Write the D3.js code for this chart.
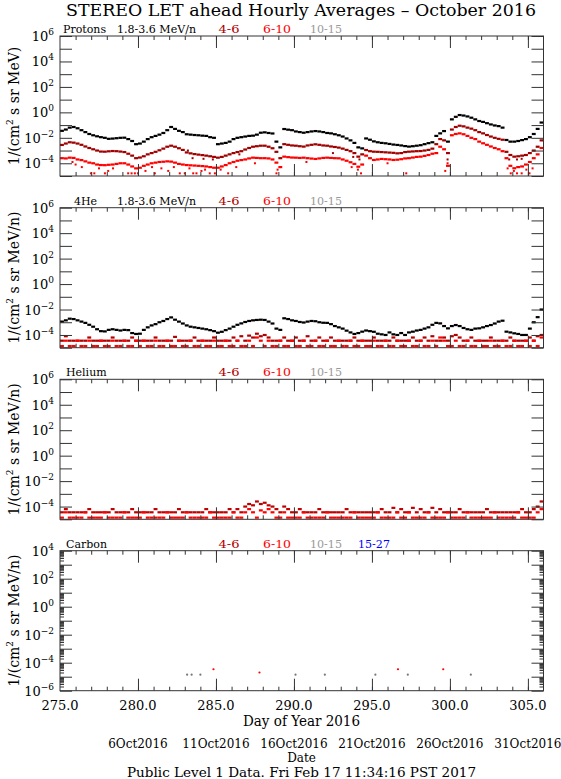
<!DOCTYPE html>
<html>
<head>
<meta charset="utf-8">
<script src="https://cdn.jsdelivr.net/npm/d3@7"></script>
<style>
  body { margin: 0; background: #fff; }
  svg { display: block; }
  text { font-family: "DejaVu Serif", serif; fill: #000; }
</style>
</head>
<body>
<svg width="561" height="779"></svg>
<script>
var dayStart = 275, dayStep = 0.25, dayEnd = 306;

var xMajorTicks = [280, 285, 290, 295, 300, 305];
var xLabelDays = [275, 280, 285, 290, 295, 300, 305];
var dateLabels = ["6Oct2016", "11Oct2016", "16Oct2016", "21Oct2016", "26Oct2016", "31Oct2016"];

var chanNames = ["4-6", "6-10", "10-15", "15-27"];
var chanColors = ["#b00000", "#ff0000", "#999999", "#0000ff"];

// Protons 1.8-3.6 MeV
var protons18 = [
 -1.45,-1.35,-1.2,-1.15,  -1.25,-1.4,-1.55,-1.7,  -1.8,-1.88,-1.95,-2.0,  -2.08,-2.06,-2.03,-2.0,
 -1.99,-2.1,-2.25,-2.5,  -2.45,-2.3,-2.1,-1.95,  -1.85,-1.75,-1.62,-1.4,  -1.15,-1.3,-1.45,-1.55,
 -1.72,-1.75,-1.78,-1.8,  -1.83,-1.85,-1.95,-2.0,  -2.5,-2.45,-2.4,-2.3,  -2.1,-2.0,-1.95,-1.9,
 -1.85,-1.83,-1.75,-1.6,  -1.57,-1.62,-1.66,-2.3,  -2.75,-1.31,-1.36,-1.4,  -1.5,-1.55,-1.6,-1.55,
 -1.5,-1.47,-1.5,-1.55,  -1.62,-1.65,-1.72,-1.8,  -1.9,-2.05,-2.2,-2.4,  -2.75,-2.83,-2.05,-2.15,
 -2.28,-2.35,-2.4,-2.43,  -2.48,-2.53,-2.56,-2.6,  -2.65,-2.69,-2.66,-2.62,  -2.58,-2.5,-2.42,-2.35,
 -1.85,-1.65,-1.47,-2.3,  -0.55,-0.35,-0.21,-0.25,  -0.32,-0.42,-0.55,-0.68,  -0.75,-0.85,-0.95,-1.03,
 -1.08,-1.2,-2.17,-2.3,  -2.3,-2.25,-2.18,-2.1,  -1.95,-1.7,-1.3,-0.8
];
// Protons 4-6 MeV
var protons46 = [
 -2.56,-2.45,-2.35,-2.38,  -2.45,-2.55,-2.68,-2.8,  -2.9,-3.0,-3.08,-3.09,  -3.06,-3.04,-3.05,-3.08,
 -3.12,-3.25,-3.4,-3.6,  -3.55,-3.45,-3.3,-3.2,  -3.1,-2.98,-2.85,-2.7,  -2.62,-2.7,-2.82,-2.95,
 -3.15,-3.22,-3.28,-3.32,  -3.36,-3.4,-3.45,-3.5,  -3.56,-3.5,-3.4,-3.3,  -3.2,-3.12,-3.05,-2.92,
 -2.8,-2.7,-2.66,-2.62,  -2.62,-2.7,-2.82,-3.1,  -3.6,-2.5,-2.55,-2.6,  -2.62,-2.66,-2.69,-2.6,
 -2.55,-2.51,-2.55,-2.6,  -2.62,-2.68,-2.72,-2.77,  -2.85,-2.95,-3.05,-3.2,  -3.48,-3.3,-2.96,-3.05,
 -3.09,-3.1,-3.12,-3.14,  -3.16,-3.18,-3.22,-3.2,  -3.12,-3.09,-3.07,-3.05,  -3.04,-3.0,-2.95,-2.85,
 -2.5,-2.1,-2.2,-3.2,  -1.35,-1.15,-1.05,-1.1,  -1.2,-1.28,-1.4,-1.55,  -1.65,-1.78,-1.9,-2.0,
 -2.08,-2.15,-3.1,-3.35,  -3.48,-3.45,-3.4,-3.35,  -3.2,-3.0,-2.7,-2.2
];
// Protons 6-10 MeV
var protons610 = [
 -3.6,-3.62,-3.56,-3.58,  -3.7,-3.75,-3.85,-3.95,  -4.0,-4.1,-4.14,-4.15,  -4.12,-4.1,-4.05,-4.0,
 -4.0,-4.1,-4.25,-4.4,  -4.35,-4.2,-4.1,-4.0,  -3.95,-3.9,-3.88,-3.85,  -3.87,-3.95,-4.05,-4.1,
 -4.14,-4.16,-4.18,-4.2,  -4.22,-4.25,-4.3,-4.35,  -4.35,-4.25,-4.14,-4.0,  -3.9,-3.8,-3.75,-3.7,
 -3.62,-3.56,-3.58,-3.6,  -3.6,-3.62,-3.7,-3.95,  -4.3,-3.48,-3.52,-3.55,  -3.56,-3.58,-3.56,-3.6,
 -3.63,-3.66,-3.62,-3.58,  -3.56,-3.58,-3.6,-3.61,  -3.7,-3.8,-3.92,-4.05,  -4.27,-4.1,-3.4,-3.6,
 -3.74,-3.7,-3.66,-3.68,  -3.7,-3.74,-3.72,-3.68,  -3.62,-3.6,-3.55,-3.5,  -3.48,-3.42,-3.35,-3.25,
 -3.2,-2.7,-2.9,-4.2,  -1.8,-1.7,-1.65,-1.72,  -1.85,-2.0,-2.1,-2.3,  -2.43,-2.55,-2.68,-2.8,
 -2.9,-3.05,-3.6,-4.2,  -4.39,-4.3,-4.25,-4.1,  -3.9,-3.6,-3.3,-2.8
];
// scattered low-count hours: [day, log10 flux]
var protons610Scatter = [
 [275.8,-3.9],[276.0,-4.1],[276.4,-4.3],[276.98,-4.79],[277.2,-4.79],[277.5,-4.4],[277.88,-4.79],
 [278.09,-4.6],[278.4,-4.4],[279.37,-4.79],[279.59,-4.79],[279.8,-4.79],[280.0,-4.79],[280.48,-4.6],
 [280.9,-4.3],[281.08,-4.79],[281.5,-4.4],[281.94,-4.6],[282.3,-4.3],[282.68,-4.79],[283.0,-4.79],
 [283.3,-4.4],[283.54,-4.79],[283.75,-4.79],[284.07,-4.6],[284.3,-4.5],[284.6,-4.79],[284.93,-4.79],
 [285.3,-4.5],[285.78,-4.79],[286.3,-4.3],[287.5,-4.0],[288.88,-4.79],[288.95,-4.5],[290.8,-3.9],
 [293.7,-4.3],[294.1,-4.5],[294.3,-4.79],[296.0,-4.0],[297.2,-4.79],[299.7,-4.6],[299.85,-4.0],
 [303.7,-4.4],[303.9,-4.79],[304.1,-4.6],[304.3,-4.79],[304.6,-4.79],[304.9,-4.5],[305.1,-4.79],[305.3,-4.4]
];
var protons46Scatter = [
 [283.2,-3.0],[283.5,-3.6],[284.2,-3.65],[284.8,-3.7],[286.5,-3.3],[292.5,-3.2],[293.8,-3.5],
 [294.2,-3.7],[299.85,-3.7],[303.8,-3.7],[304.3,-3.7],[304.6,-3.65]
];

// 4He 1.8-3.6 MeV/n
var he4_18 = [
 -2.95,-2.85,-2.72,-2.75,  -2.85,-2.95,-3.05,-3.2,  -3.35,-3.55,-3.7,-3.72,  -3.6,-3.55,-3.6,-3.65,
 -3.6,-3.62,-3.85,-3.92,  -3.9,-3.6,-3.4,-3.25,  -3.15,-3.0,-2.9,-2.75,  -2.62,-2.8,-2.95,-3.1,
 -3.25,-3.35,-3.4,-3.45,  -3.5,-3.55,-3.62,-3.7,  -3.82,-3.75,-3.62,-3.5,  -3.35,-3.2,-3.09,-2.98,
 -2.9,-2.85,-2.82,-2.8,  -2.82,-2.95,-3.1,-3.5,  -3.6,-2.69,-2.75,-2.85,  -2.9,-2.98,-3.02,-2.95,
 -2.9,-2.92,-3.0,-3.04,  -3.05,-3.15,-3.3,-3.4,  -3.5,-3.66,-3.8,-3.92,  -3.85,-3.74,-3.65,-3.7,
 -3.75,-3.9,-3.95,-4.0,  -3.8,-3.95,-4.0,-3.85,  -4.0,-3.8,-3.74,-3.65,  -3.6,-3.5,-3.4,-3.2,
 -3.05,-3.09,-3.3,-3.48,  -3.3,-3.22,-3.3,-3.45,  -3.55,-3.6,-3.5,-3.48,  -3.4,-3.3,-3.22,-3.1,
 -2.95,-2.88,-3.74,-3.8,  -3.87,-3.92,-4.0,-4.0,  -3.5,-3.0,-2.6,-2.0
];
// 4He 4-6 MeV/n
var he4_46 = [
 -4.45,-4.1,-4.45,-4.45,  -4.45,-4.45,-4.45,-4.2,  -4.45,-4.45,-4.45,-4.45,  -4.45,-4.2,-4.45,-4.45,
 -4.45,-4.45,-4.2,-4.45,  -4.45,-4.45,-4.45,-4.45,  -4.2,-4.45,-4.45,-4.45,  -4.45,-4.15,-4.45,-4.45,
 -4.45,-4.45,-4.2,-4.45,  -4.45,-4.45,-4.45,-4.2,  -4.45,-4.45,-4.45,-4.45,  -4.2,-4.45,-4.1,-4.45,
 -4.05,-4.2,-3.9,-4.1,  -4.0,-4.2,-4.45,-4.45,  -4.45,-4.2,-4.45,-4.45,  -4.2,-4.45,-4.45,-4.1,
 -4.45,-4.45,-4.2,-4.45,  -4.45,-4.2,-4.45,-4.45,  -4.45,-4.45,-4.45,-4.2,  -4.45,-4.45,-4.45,-4.45,
 -4.2,-4.45,-4.45,-4.45,  -4.45,-4.2,-4.45,-4.45,  -4.45,-4.45,-4.2,-4.45,  -4.45,-4.2,-4.45,-4.1,
 -4.45,-4.45,-4.2,-4.45,  -4.1,-4.0,-4.2,-4.45,  -4.45,-4.2,-4.45,-4.45,  -4.45,-4.45,-4.2,-4.45,
 -4.45,-4.45,-4.45,-4.2,  -4.45,-4.45,-4.45,-4.45,  -4.2,-4.45,-4.1,-4.0
];
// 4He 6-10 MeV/n
var he4_610 = [
 -4.87,-4.45,-4.87,-4.87,  -4.45,-4.87,-4.87,-4.45,  -4.87,-4.87,-4.45,-4.87,  -4.87,-4.45,-4.87,-4.87,
 -4.45,-4.87,-4.87,-4.45,  -4.87,-4.45,-4.87,-4.87,  -4.45,-4.87,-4.87,-4.45,  -4.87,-4.87,-4.45,-4.87,
 -4.87,-4.45,-4.87,-4.87,  -4.45,-4.87,-4.87,-4.45,  -4.87,-4.87,-4.45,-4.87,  -4.87,-4.45,-4.87,-4.87,
 -4.45,-4.87,-4.2,-4.45,  -4.87,-4.45,-4.87,-4.87,  -4.45,-4.87,-4.87,-4.45,  -4.87,-4.87,-4.45,-4.87,
 -4.87,-4.45,-4.87,-4.87,  -4.45,-4.87,-4.87,-4.45,  -4.87,-4.87,-4.45,-4.87,  -4.87,-4.45,-4.87,-4.87,
 -4.45,-4.87,-4.87,-4.45,  -4.87,-4.87,-4.45,-4.87,  -4.87,-4.45,-4.87,-4.87,  -4.45,-4.87,-4.87,-4.45,
 -4.87,-4.2,-4.45,-4.87,  -4.87,-4.45,-4.87,-4.87,  -4.45,-4.87,-4.87,-4.45,  -4.87,-4.87,-4.45,-4.87,
 -4.87,-4.45,-4.87,-4.87,  -4.45,-4.87,-4.87,-4.45,  -4.87,-4.45,-4.87,-4.2
];

// Helium 4-6 MeV/n
var heliumDark = [
 -4.45,-4.2,-4.45,-4.45,  -4.45,-4.45,-4.45,-4.2,  -4.45,-4.45,-4.45,-4.45,  -4.45,-4.2,-4.45,-4.45,
 -4.45,-4.45,-4.2,-4.45,  -4.45,-4.45,-4.45,-4.45,  -4.2,-4.45,-4.45,-4.45,  -4.45,-4.45,-4.2,-4.45,
 -4.45,-4.45,-4.45,-4.45,  -4.45,-4.2,-4.45,-4.45,  -4.45,-4.45,-4.45,-4.2,  -4.45,-4.2,-4.45,-4.0,
 -3.8,-3.9,-3.6,-3.8,  -3.7,-3.9,-4.0,-4.2,  -4.45,-4.0,-4.2,-4.45,  -4.45,-4.2,-4.45,-4.45,
 -4.45,-4.45,-4.2,-4.45,  -4.45,-4.45,-4.45,-4.45,  -4.45,-4.2,-4.45,-4.45,  -4.45,-4.45,-4.45,-4.45,
 -4.45,-4.45,-4.2,-4.45,  -4.45,-4.1,-4.45,-4.2,  -4.45,-4.45,-4.1,-4.45,  -4.2,-4.45,-4.45,-4.1,
 -4.45,-4.2,-4.45,-4.45,  -4.45,-4.45,-4.2,-4.45,  -4.45,-4.45,-4.45,-4.45,  -4.45,-4.2,-4.45,-4.45,
 -4.45,-4.45,-4.45,-4.45,  -4.45,-4.45,-4.2,-4.45,  -4.45,-4.2,-4.0,-3.6
];
// Helium 6-10 MeV/n
var heliumRed = [
 -4.87,-4.45,-4.87,-4.87,  -4.87,-4.87,-4.45,-4.87,  -4.87,-4.87,-4.87,-4.45,  -4.87,-4.87,-4.87,-4.87,
 -4.45,-4.87,-4.87,-4.87,  -4.87,-4.45,-4.87,-4.87,  -4.87,-4.87,-4.87,-4.45,  -4.87,-4.87,-4.87,-4.87,
 -4.45,-4.87,-4.87,-4.87,  -4.87,-4.87,-4.45,-4.87,  -4.87,-4.87,-4.87,-4.87,  -4.45,-4.87,-4.87,-4.45,
 -4.2,-4.45,-4.87,-4.3,  -4.45,-4.2,-4.45,-4.87,  -4.87,-4.45,-4.87,-4.87,  -4.87,-4.87,-4.45,-4.87,
 -4.87,-4.87,-4.87,-4.87,  -4.45,-4.87,-4.87,-4.87,  -4.87,-4.87,-4.87,-4.45,  -4.87,-4.87,-4.87,-4.87,
 -4.87,-4.45,-4.87,-4.87,  -4.87,-4.87,-4.45,-4.87,  -4.87,-4.45,-4.87,-4.87,  -4.87,-4.87,-4.45,-4.87,
 -4.87,-4.87,-4.87,-4.45,  -4.87,-4.87,-4.87,-4.87,  -4.45,-4.87,-4.87,-4.87,  -4.87,-4.87,-4.87,-4.45,
 -4.87,-4.87,-4.87,-4.87,  -4.87,-4.45,-4.87,-4.87,  -4.87,-4.87,-4.45,-4.2
];

// Carbon: isolated counts [day, flux]
var carbon610 = [[284.84, 3.4e-5], [287.79, 2.0e-5], [296.67, 3.4e-5], [299.57, 3.4e-5]];
var carbon1015 = [[283.15, 1.4e-5], [283.44, 1.4e-5], [284.0, 1.4e-5], [290.1, 1.4e-5],
                  [291.98, 1.4e-5], [295.22, 1.4e-5], [297.3, 1.4e-5], [301.34, 1.4e-5]];

var svg = d3.select("svg");
var left = 60, right = 543.5, panelH = 140;
var panelTops = [36, 207.7, 379.3, 550.7];

var x = d3.scaleLinear().domain([dayStart, dayEnd]).range([left, right]);

var panels = [
  { name: "Protons", nameX: 63, sub: true, unit: "1/(cm|2| s sr MeV)", domain: [1e-5, 1e6], chans: 3,
    bins: [[protons18, "#000"], [protons46, "#a00000"], [protons610, "#ff0000"]],
    scatter: [[protons46Scatter, "#a00000"], [protons610Scatter, "#ff0000"]] },
  { name: "4He", nameX: 74, sub: true, unit: "1/(cm|2| s sr MeV/n)", domain: [1e-5, 1e6], chans: 3,
    bins: [[he4_18, "#000"], [he4_46, "#b00000"], [he4_610, "#ff0000"]], scatter: [] },
  { name: "Helium", nameX: 66, sub: false, unit: "1/(cm|2| s sr MeV/n)", domain: [1e-5, 1e6], chans: 3,
    bins: [[heliumDark, "#c00000"], [heliumRed, "#ff0000"]], scatter: [] },
  { name: "Carbon", nameX: 66, sub: false, unit: "1/(cm|2| s sr MeV/n)", domain: [1e-6, 1e4], chans: 4,
    bins: [], minor: true,
    points: [[carbon1015, "#777"], [carbon610, "#ff0000"]] }
];

// title
svg.append("text")
  .attr("x", 301).attr("y", 16)
  .attr("text-anchor", "middle")
  .attr("font-size", 17)
  .attr("textLength", 470).attr("lengthAdjust", "spacingAndGlyphs")
  .text("STEREO LET ahead Hourly Averages \u2013 October 2016");

panels.forEach(function(p, k) {
  var top = panelTops[k], bottom = top + panelH;
  var y = d3.scaleLog().domain(p.domain).range([bottom, top]);
  var g = svg.append("g");

  var clipId = "clip" + k;
  svg.append("clipPath").attr("id", clipId).append("rect")
    .attr("x", left).attr("y", top).attr("width", right - left).attr("height", panelH);
  var dataG = g.append("g").attr("clip-path", "url(#" + clipId + ")");

  var binW = x(dayStart + dayStep) - x(dayStart);
  p.bins.forEach(function(s) {
    dataG.selectAll(null).data(s[0]).enter().append("rect")
      .attr("x", function(d, i) { return x(dayStart + i * dayStep); })
      .attr("width", binW)
      .attr("y", function(d) { return y(Math.pow(10, d)) - 1.1; })
      .attr("height", 2.2)
      .attr("fill", s[1]);
  });
  (p.scatter || []).forEach(function(s) {
    dataG.selectAll(null).data(s[0]).enter().append("rect")
      .attr("x", function(d) { return x(d[0]) - 1; })
      .attr("y", function(d) { return y(Math.pow(10, d[1])) - 1; })
      .attr("width", 2).attr("height", 2)
      .attr("fill", s[1]);
  });
  (p.points || []).forEach(function(s) {
    dataG.selectAll(null).data(s[0]).enter().append("circle")
      .attr("cx", function(d) { return x(d[0]); })
      .attr("cy", function(d) { return y(d[1]); })
      .attr("r", 1.1)
      .attr("fill", s[1]);
  });

  // frame
  g.append("rect")
    .attr("x", left).attr("y", top).attr("width", right - left).attr("height", panelH)
    .attr("fill", "none").attr("stroke", "#333").attr("stroke-width", 1);

  var tickStyle = function(a) {
    a.select(".domain").remove();
    a.selectAll("line").attr("stroke", "#333");
  };
  var dayTicks = d3.range(276, 306);
  // x ticks, inward on top and bottom
  g.append("g").attr("transform", "translate(0," + top + ")")
    .call(d3.axisBottom(x).tickValues(dayTicks).tickSize(4).tickFormat("")).call(tickStyle);
  g.append("g").attr("transform", "translate(0," + top + ")")
    .call(d3.axisBottom(x).tickValues(xMajorTicks).tickSize(12).tickFormat("")).call(tickStyle);
  g.append("g").attr("transform", "translate(0," + bottom + ")")
    .call(d3.axisTop(x).tickValues(dayTicks).tickSize(4).tickFormat("")).call(tickStyle);
  g.append("g").attr("transform", "translate(0," + bottom + ")")
    .call(d3.axisTop(x).tickValues(xMajorTicks).tickSize(12).tickFormat("")).call(tickStyle);

  // y ticks, every decade, inward on both sides
  var lo = Math.round(Math.log10(p.domain[0])), hi = Math.round(Math.log10(p.domain[1]));
  var decades = d3.range(lo, hi + 1).map(function(e) { return Math.pow(10, e); });
  g.append("g").attr("transform", "translate(" + left + ",0)")
    .call(d3.axisRight(y).tickValues(decades).tickSize(12).tickFormat("")).call(tickStyle);
  g.append("g").attr("transform", "translate(" + right + ",0)")
    .call(d3.axisLeft(y).tickValues(decades).tickSize(12).tickFormat("")).call(tickStyle);
  if (p.minor) {
    var minors = y.ticks(100).filter(function(v) {
      var m = v / Math.pow(10, Math.floor(Math.log10(v) + 1e-9));
      return Math.abs(m - 1) > 1e-6;
    });
    g.append("g").attr("transform", "translate(" + left + ",0)")
      .call(d3.axisRight(y).tickValues(minors).tickSize(4).tickFormat("")).call(tickStyle);
    g.append("g").attr("transform", "translate(" + right + ",0)")
      .call(d3.axisLeft(y).tickValues(minors).tickSize(4).tickFormat("")).call(tickStyle);
  }

  // y tick labels 10^n, even exponents
  d3.range(lo, hi + 1).filter(function(e) { return e % 2 === 0; }).forEach(function(e) {
    var t = g.append("text")
      .attr("x", 54).attr("y", y(Math.pow(10, e)) + 5)
      .attr("text-anchor", "end")
      .attr("font-size", 13);
    t.append("tspan").text("10");
    t.append("tspan").attr("font-size", 9).attr("dy", -6)
      .text(e < 0 ? "\u2212" + (-e) : String(e));
  });

  // y axis title
  var parts = p.unit.split("|");
  var yt = g.append("text")
    .attr("transform", "translate(19," + (top + panelH / 2) + ") rotate(-90)")
    .attr("text-anchor", "middle")
    .attr("font-size", 14);
  yt.append("tspan").text(parts[0]);
  yt.append("tspan").attr("font-size", 9).attr("dy", -6).text(parts[1]);
  yt.append("tspan").attr("dy", 6).text(parts[2]);

  // panel labels
  var ly = top - 3;
  g.append("text").attr("x", p.nameX).attr("y", ly).attr("font-size", 11).text(p.name);
  if (p.sub) {
    g.append("text").attr("x", 117).attr("y", ly).attr("font-size", 11)
      .attr("textLength", 79).attr("lengthAdjust", "spacingAndGlyphs").text("1.8-3.6 MeV/n");
  }
  var chanX = [218.5, 263, 310, 358];
  var chanW = [21, 28, 32, 32];
  chanNames.slice(0, p.chans).forEach(function(c, i) {
    g.append("text").attr("x", chanX[i]).attr("y", ly).attr("font-size", 11)
      .attr("textLength", chanW[i]).attr("lengthAdjust", "spacingAndGlyphs")
      .attr("fill", chanColors[i]).style("fill", chanColors[i]).text(c);
  });

  // bottom labels only on last panel
  if (k === panels.length - 1) {
    xLabelDays.forEach(function(d) {
      g.append("text").attr("x", x(d)).attr("y", bottom + 19)
        .attr("text-anchor", "middle").attr("font-size", 13).text(d3.format(".1f")(d));
    });
    g.append("text").attr("x", 301.5).attr("y", bottom + 35)
      .attr("text-anchor", "middle").attr("font-size", 15)
      .attr("textLength", 117).attr("lengthAdjust", "spacingAndGlyphs").text("Day of Year 2016");
    xMajorTicks.forEach(function(d, i) {
      g.append("text").attr("x", x(d)).attr("y", 748)
        .attr("text-anchor", "middle").attr("font-size", 12).text(dateLabels[i]);
    });
    g.append("text").attr("x", 301.5).attr("y", 761.5)
      .attr("text-anchor", "middle").attr("font-size", 12).text("Date");
    g.append("text").attr("x", 301.5).attr("y", 777)
      .attr("text-anchor", "middle").attr("font-size", 13)
      .attr("textLength", 349).attr("lengthAdjust", "spacingAndGlyphs")
      .text("Public Level 1 Data. Fri Feb 17 11:34:16 PST 2017");
  }
});
</script>
</body>
</html>
